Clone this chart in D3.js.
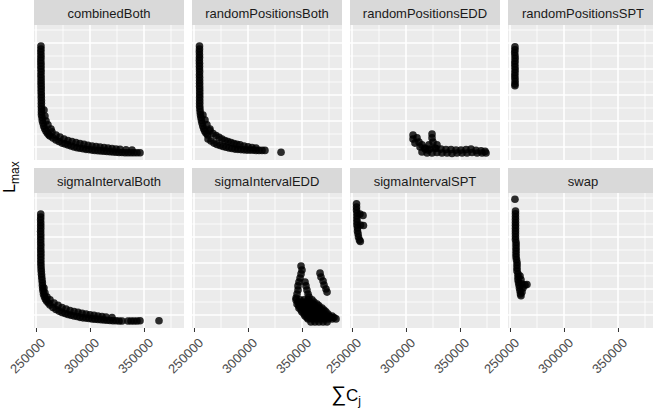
<!DOCTYPE html>
<html>
<head>
<meta charset="utf-8">
<script src="https://cdnjs.cloudflare.com/ajax/libs/d3/7.8.5/d3.min.js"></script>
<style>
body { margin: 0; background: #fff; }
svg { display: block; }
text { font-family: "Liberation Sans", Arial, sans-serif; }
</style>
</head>
<body>
<svg id="chart" width="653" height="412"></svg>
<script>
// facet order (facet_wrap, 4 columns)
var facets = ["combinedBoth", "randomPositionsBoth", "randomPositionsEDD", "randomPositionsSPT",
              "sigmaIntervalBoth", "sigmaIntervalEDD", "sigmaIntervalSPT", "swap"];

// [sum of Cj, Lmax]
var combinedBoth = [
  [254600,488],[254600,477],[254500,466],[254600,455],[254600,444],[254500,433],[254600,422],[254600,411],
  [254600,400],[254700,389],[254600,378],[254700,367],[254700,356],[254700,345],[254800,334],[254800,323],
  [254800,312],[254900,301],[254900,290],[255000,279],[255000,268],[255000,257],[255100,246],[255100,235],
  [255100,224],[255600,213],[255800,202],[256500,191],[257200,180],[258100,170],[259300,161],[260600,153],
  [262000,146],[257400,242],[258300,219],[259300,200],[261100,185],[263900,169],
  [263000,142],[265700,135],[268500,127],[271300,121],[274100,115],[276900,112],[279600,108],[282400,104],
  [285200,100],[288000,97],[290700,95],[293500,93],[296300,91],[299100,90],[301900,88],[304600,87],
  [307400,86],[310200,85],[313000,84],[315700,83],[318500,82],[321300,81],[324100,80],[326900,79],
  [329600,79],[332400,78],[335200,78],[338000,78],[340700,78],[343500,78],[346300,78],
  [264800,158],[268500,146],[272200,138],[275900,131],[279600,125],[283300,121],[287000,117],[290700,113],
  [294400,110],[298100,107],[301900,104],[305600,102],[309300,100],[313000,98],[316700,96],[320400,94],
  [324100,92],[327800,91],[333300,89],[338900,88]
];
var randomPositionsBoth = [
  [255100,488],[255100,477],[255000,466],[255100,455],[255100,444],[255000,433],[255100,422],[255100,411],
  [255100,400],[255200,389],[255100,378],[255200,367],[255200,356],[255200,345],[255200,334],[255300,323],
  [255300,312],[255300,301],[255300,290],[255300,279],[255300,268],[255300,257],[255500,246],[255700,235],
  [256000,224],[256400,213],[256900,202],[257500,191],[258200,180],[259000,170],[260000,161],[261200,153],
  [262600,146],[258300,223],[260200,204],[262000,185],[264800,169],
  [263000,131],[265700,123],[268500,115],[271300,110],[274100,106],[276900,102],[279600,99],[282400,96],
  [285200,94],[288000,92],[290700,91],[293500,90],[296300,89],[299100,88],[301900,88],[304600,88],
  [307400,87],[310200,87],[313000,87],[315700,87],[330600,80],
  [264800,162],[267600,152],[270400,144],[273200,137],[275900,131],[278700,125],[281500,121],[284300,117],
  [287000,113],[289800,110],[292600,108],[296300,104],[300000,101],[303700,98],[307400,96]
];
var randomPositionsEDD = [
  [306500,146],[306500,131],[310200,135],[308300,115],[312000,119],[314800,108],[313000,100],
  [324100,150],[324100,135],[325000,119],[321300,108],[317600,96],[320400,88],[328700,108],[326900,96],
  [317600,92],[322200,92],[327800,94],[332400,92],[337000,90],[341700,90],[346300,88],[350900,88],
  [355600,90],[360200,92],[364800,87],[369500,85],[373200,83],
  [314800,81],[319500,77],[324100,77],[328700,79],[333300,77],[338000,77],[342600,75],[347200,77],
  [351900,77],[356500,77],[361100,79],[365800,77],[370400,77],[374100,77]
];
var randomPositionsSPT = [
  [254600,485],[254600,474],[254400,463],[254600,452],[254700,441],[254600,430],[254500,419],[254600,408],
  [254700,397],[254600,386],[254500,375],[254600,364],[254700,353],[254600,342],[254600,336]
];
var sigmaIntervalBoth = [
  [254400,488],[254400,477],[254300,466],[254400,455],[254400,444],[254400,433],[254300,422],[254400,411],
  [254400,400],[254400,389],[254400,378],[254500,367],[254400,356],[254500,345],[254500,334],[254500,323],
  [254500,312],[254500,301],[254600,290],[254700,279],[254900,268],[255100,257],[255300,246],[255600,235],
  [255900,224],[256000,213],[256200,202],[256600,191],[257000,180],[257800,170],[258800,161],[260000,153],
  [261500,146],[257400,204],[258300,185],[260200,169],
  [263000,138],[265700,129],[268500,121],[271300,115],[274100,110],[276900,106],[279600,102],[282400,99],
  [285200,96],[288000,94],[290700,91],[293500,89],[296300,88],[299100,87],[301900,85],[304600,84],
  [307400,83],[310200,82],[313000,81],[315700,80],[318500,79],[321300,78],[324100,78],[326900,77],
  [329600,77],[335200,77],[338000,77],[340700,77],[343500,77],[346300,78],[363900,78],
  [263000,158],[266700,146],[270400,137],[274100,129],[277800,123],[281500,117],[285200,113],[288900,110],
  [292600,107],[296300,104],[300000,101],[303700,99],[307400,96],[311100,94],[314800,92],[320400,90]
];
var sigmaIntervalEDD = [
  [349100,288],[350000,273],[349100,258],[348200,242],[347200,227],[346300,212],[346300,196],[345400,181],
  [344500,165],[352800,227],[353700,212],[354600,196],[355600,181],[356500,169],
  [366700,261],[367600,246],[369500,231],[370400,215],[372200,200],[373200,188],
  [344500,158],[348200,158],[351900,158],[355600,158],[359300,158],
  [346300,150],[350000,150],[353700,150],[357400,150],[361100,150],
  [345400,142],[349100,142],[352800,142],[356500,142],[360200,142],[363900,142],
  [347200,135],[350900,135],[354600,135],[358300,135],[362000,135],[365700,135],
  [347200,127],[350900,127],[354600,127],[358300,127],[362000,127],[365700,127],[368500,127],
  [349100,119],[352800,119],[356500,119],[360200,119],[363900,119],[367600,119],[370400,119],
  [350000,112],[353700,112],[357400,112],[361100,112],[364800,112],[368500,112],[372200,112],
  [351900,104],[355600,104],[359300,104],[363000,104],[366700,104],[370400,104],[374100,104],
  [352800,96],[356500,96],[360200,96],[363900,96],[367600,96],[371300,96],[375000,96],[377800,96],
  [354600,90],[358300,90],[362000,90],[365700,90],[369500,90],[373200,90],[376900,90],[379600,90],
  [355600,85],[359300,85],[363000,85],[366700,85],[370400,85],[374100,85],[377800,85],[381500,85],
  [358300,73],[362000,73],[365700,73],[369500,73],[373200,73]
];
var sigmaIntervalSPT = [
  [254200,528],[254200,515],[254200,504],[254600,492],[254600,481],[254600,469],[254600,458],[254600,446],
  [255100,435],[255100,423],[255600,412],[256000,400],[256900,388],[257700,383],
  [257400,488],[260200,483],[257900,446],[260600,444]
];
var swap = [
  [254600,545],
  [255100,500],[255100,489],[255100,478],[255100,467],[255100,456],[255100,445],[255100,434],[255100,423],
  [255100,412],[255100,401],[255100,390],[255600,379],[255600,368],[255600,357],[255600,346],[255600,335],
  [255600,324],[256000,313],[256500,302],[256500,291],[256500,280],[256500,269],[257400,258],[257400,247],
  [257400,236],[257900,225],[258400,214],[258800,203],[259300,192],[259700,181],[260200,174],
  [259300,250],[260200,235],[261100,219],[262000,204],[261100,188],[263900,215],[265700,217]
];

var xTicks = [250000, 300000, 350000];
var xMinor = [275000, 325000, 375000];
var yMajor = [100, 200, 300, 400, 500];
var yMinor = [150, 250, 350, 450, 550];
var xDomain = [248150, 387040];
var yDomain = [50, 569.2];

var seriesByFacet = {
  combinedBoth: combinedBoth, randomPositionsBoth: randomPositionsBoth,
  randomPositionsEDD: randomPositionsEDD, randomPositionsSPT: randomPositionsSPT,
  sigmaIntervalBoth: sigmaIntervalBoth, sigmaIntervalEDD: sigmaIntervalEDD,
  sigmaIntervalSPT: sigmaIntervalSPT, swap: swap
};

var left = 34, panelW = 150, panelH = 135, stripH = 25, gapX = 8, gapY = 8, nCol = 4;

var svg = d3.select('#chart');

var x = d3.scaleLinear().domain(xDomain).range([0, panelW]);
var y = d3.scaleLinear().domain(yDomain).range([panelH, 0]);

facets.forEach(function(name, i) {
  var col = i % nCol, row = Math.floor(i / nCol);
  var x0 = left + col * (panelW + gapX);
  var y0 = row * (stripH + panelH + gapY);

  var strip = svg.append('g').attr('transform', 'translate(' + x0 + ',' + y0 + ')');
  strip.append('rect').attr('width', panelW).attr('height', stripH).attr('fill', '#d9d9d9');
  strip.append('text')
      .attr('x', panelW / 2).attr('y', 17.5)
      .attr('text-anchor', 'middle')
      .attr('font-size', '13px')
      .attr('fill', '#1a1a1a')
      .text(name);

  var g = svg.append('g').attr('transform', 'translate(' + x0 + ',' + (y0 + stripH) + ')');
  g.append('rect').attr('width', panelW).attr('height', panelH).attr('fill', '#ebebeb');

  g.selectAll('.ymin').data(yMinor).enter().append('line')
      .attr('x1', 0).attr('x2', panelW)
      .attr('y1', function(d) { return y(d); }).attr('y2', function(d) { return y(d); })
      .attr('stroke', '#fff').attr('stroke-width', 0.8);
  g.selectAll('.xmin').data(xMinor).enter().append('line')
      .attr('y1', 0).attr('y2', panelH)
      .attr('x1', function(d) { return x(d); }).attr('x2', function(d) { return x(d); })
      .attr('stroke', '#fff').attr('stroke-width', 0.8);
  g.selectAll('.ymaj').data(yMajor).enter().append('line')
      .attr('x1', 0).attr('x2', panelW)
      .attr('y1', function(d) { return y(d); }).attr('y2', function(d) { return y(d); })
      .attr('stroke', '#fff').attr('stroke-width', 1.6);
  g.selectAll('.xmaj').data(xTicks).enter().append('line')
      .attr('y1', 0).attr('y2', panelH)
      .attr('x1', function(d) { return x(d); }).attr('x2', function(d) { return x(d); })
      .attr('stroke', '#fff').attr('stroke-width', 1.6);

  g.selectAll('.pt').data(seriesByFacet[name]).enter().append('circle')
      .attr('cx', function(d) { return x(d[0]); })
      .attr('cy', function(d) { return y(d[1]); })
      .attr('r', 3.8)
      .attr('fill', '#000')
      .attr('fill-opacity', 0.82);

  if (row === 1) {
    var ax = svg.append('g')
        .attr('transform', 'translate(' + x0 + ',' + (y0 + stripH + panelH) + ')')
        .call(d3.axisBottom(x).tickValues(xTicks).tickSize(4).tickFormat(d3.format('d')));
    ax.select('.domain').remove();
    ax.selectAll('line').attr('stroke', '#333').attr('stroke-width', 1);
    ax.selectAll('text')
        .attr('x', 0).attr('y', 0).attr('dy', '0.72em')
        .attr('transform', 'translate(3,9) rotate(-45)')
        .attr('text-anchor', 'end')
        .attr('font-size', '13px')
        .attr('font-family', '"Liberation Sans", Arial, sans-serif')
        .attr('fill', '#4d4d4d');
  }
});

// axis titles
var xt = svg.append('text')
    .attr('x', left + (nCol * panelW + (nCol - 1) * gapX) / 2)
    .attr('y', 401)
    .attr('text-anchor', 'middle')
    .attr('fill', '#000');
xt.append('tspan').attr('font-size', '21px').text('\u2211');
xt.append('tspan').attr('font-size', '17px').text('C');
xt.append('tspan').attr('font-size', '12px').attr('dy', 4).text('j');

var yt = svg.append('text')
    .attr('transform', 'translate(15,177) rotate(-90)')
    .attr('text-anchor', 'middle')
    .attr('fill', '#000');
yt.append('tspan').attr('font-size', '16px').text('L');
yt.append('tspan').attr('font-size', '12px').attr('dy', 4).text('max');
</script>
</body>
</html>
